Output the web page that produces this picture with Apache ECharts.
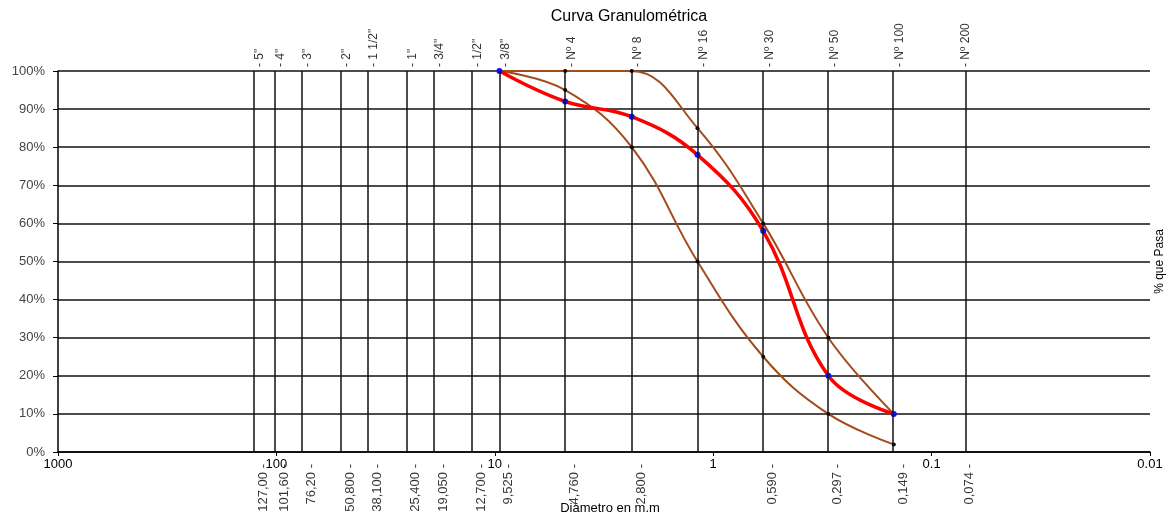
<!DOCTYPE html>
<html>
<head>
<meta charset="utf-8">
<script src="https://cdn.jsdelivr.net/npm/echarts@6/dist/echarts.min.js"></script>
<style>html,body{margin:0;padding:0;background:#fff}#c{width:1174px;height:524px}</style>
</head>
<body>
<div id="c"></div>
<script>
const sieveNames = ['5"','4"','3"','2"','1 1/2"','1"','3/4"','1/2"','3/8"','Nº 4','Nº 8','Nº 16','Nº 30','Nº 50','Nº 100','Nº 200'];
const sieveSizes = [127, 101.6, 76.2, 50.8, 38.1, 25.4, 19.05, 12.7, 9.525, 4.76, 2.36, 1.18, 0.59, 0.297, 0.149, 0.074];
const sizeLabels = ['127,00','101,60','76,20','50,800','38,100','25,400','19,050','12,700','9,525','4,760','2,800','','0,590','0,297','0,149','0,074'];
const curveSizes = [9.525, 4.76, 2.36, 1.18, 0.59, 0.297, 0.149];
const muestra = [100, 92, 88, 78, 58, 20, 10];
const limiteSuperior = [100, 100, 100, 85, 60, 30, 10];
const limiteInferior = [100, 95, 80, 50, 25, 10, 2];
const xTickLabels = {'-2':'0.01','-1':'0.1','0':'1','1':'10','2':'100','3':'1000'};

const FONT = "'Liberation Sans', Arial, sans-serif";
const BROWN = '#A44B1C';
const chart = echarts.init(document.getElementById('c'), null, {renderer:'canvas'});

function pairs(xs, ys){ return xs.map((x,i)=>[x, ys[i]]); }

const option = {
  animation: false,
  backgroundColor: '#fff',
  textStyle: {fontFamily: FONT},
  graphic: [{
    type: 'text', x: 629, y: 17,
    style: {text: 'Curva Granulométrica', align: 'center', verticalAlign: 'middle', fontSize: 16, fontFamily: FONT, fill: '#000'}
  }],
  grid: {left: 58, right: 24, top: 71, bottom: 72, containLabel: false},
  xAxis: {
    type: 'log', logBase: 10, min: 0.01, max: 1000, inverse: true,
    name: 'Diámetro en m.m', nameLocation: 'middle', nameGap: 50,
    nameTextStyle: {fontSize: 13, color: '#000', fontFamily: FONT, padding: [0,0,0,12]},
    axisLine: {show: true, lineStyle: {color: '#000', width: 1.5}},
    axisTick: {show: true, length: 4, lineStyle: {color: '#000'}},
    axisLabel: {fontSize: 13, color: '#000', margin: 6,
      formatter: v => xTickLabels[String(Math.round(Math.log10(v)))] || ''},
    splitLine: {show: false}
  },
  yAxis: [{
    type: 'value', min: 0, max: 100, interval: 10,
    axisLine: {show: true, lineStyle: {color: '#000', width: 1.5}},
    axisTick: {show: true, length: 5, lineStyle: {color: '#000'}},
    axisLabel: {fontSize: 13, color: '#444', margin: 13, formatter: '{value}%'},
    splitLine: {show: true, lineStyle: {color: '#111', width: 1.5}}
  }, {
    type: 'value', min: 0, max: 100, position: 'right',
    name: '% que Pasa', nameLocation: 'middle', nameRotate: 90, nameGap: 4,
    nameTextStyle: {fontSize: 12, color: '#000', fontFamily: FONT},
    axisLine: {show: false}, axisTick: {show: false}, axisLabel: {show: false}, splitLine: {show: false}
  }],
  series: [
    {
      name: 'tamices', type: 'scatter', symbolSize: 0, silent: true, z: 1,
      data: sieveSizes.map((s,i)=>({value:[s,100], name: sieveNames[i]})),
      label: {show: true, position: 'top', distance: 4, rotate: 90, align: 'left', verticalAlign: 'top',
        fontSize: 12, color: '#000', formatter: p => '- ' + p.name},
      markLine: {
        silent: true, symbol: ['none','none'], label: {show: false},
        lineStyle: {color: '#111', width: 1.5, type: 'solid'},
        data: sieveSizes.map(s => ({xAxis: s}))
      }
    },
    {
      name: 'aberturas', type: 'scatter', symbolSize: 0, silent: true, z: 1,
      data: sieveSizes.map((s,i)=>({value:[s,0], name: sizeLabels[i]})).filter(d => d.name !== ''),
      label: {show: true, position: 'bottom', distance: 12, rotate: 90, align: 'right', verticalAlign: 'top',
        padding: [3,0,0,0], fontSize: 13, color: '#000', formatter: p => p.name + ' -'}
    },
    {
      name: 'Límite inferior', type: 'line', smooth: 0.4, data: pairs(curveSizes, limiteInferior),
      symbol: 'circle', symbolSize: 4, itemStyle: {color: '#000'},
      lineStyle: {color: BROWN, width: 2}, z: 3
    },
    {
      name: 'Límite superior', type: 'line', smooth: 0.4, data: pairs(curveSizes, limiteSuperior),
      symbol: 'circle', symbolSize: 4, itemStyle: {color: '#000'},
      lineStyle: {color: BROWN, width: 2}, z: 3
    },
    {
      name: 'Muestra', type: 'line', smooth: 0.4, data: pairs(curveSizes, muestra),
      symbol: 'circle', symbolSize: 6, itemStyle: {color: '#1010FF'},
      lineStyle: {color: '#FF0000', width: 3.5}, z: 4
    }
  ]
};
chart.setOption(option);
</script>
</body>
</html>
